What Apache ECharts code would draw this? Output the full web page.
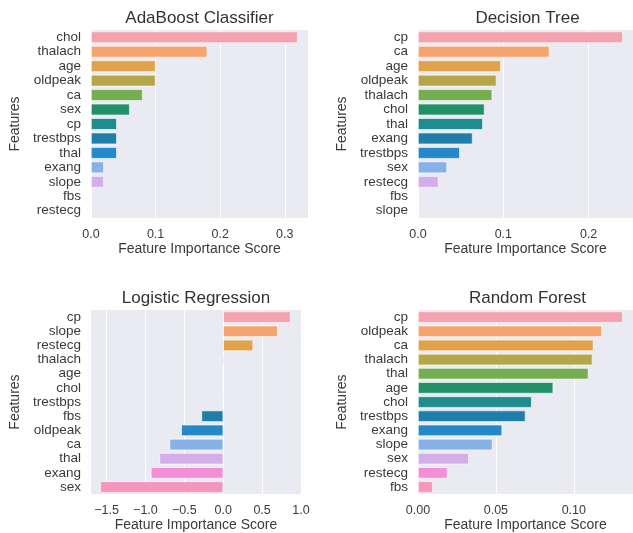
<!DOCTYPE html>
<html>
<head>
<meta charset="utf-8">
<script src="https://cdn.jsdelivr.net/npm/echarts@6/dist/echarts.min.js"></script>
<style>
  html, body { margin: 0; padding: 0; background: #ffffff; }
  #chart { width: 633px; height: 533px; }
</style>
</head>
<body>
<div id="chart"></div>
<script>
// Feature importance per model, sorted from most to least important.
const adaFeatures = ['chol', 'thalach', 'age', 'oldpeak', 'ca', 'sex', 'cp', 'trestbps', 'thal', 'exang', 'slope', 'fbs', 'restecg'];
const adaScores = [0.32, 0.18, 0.10, 0.10, 0.08, 0.06, 0.04, 0.04, 0.04, 0.02, 0.02, 0, 0];

const treeFeatures = ['cp', 'ca', 'age', 'oldpeak', 'thalach', 'chol', 'thal', 'exang', 'trestbps', 'sex', 'restecg', 'fbs', 'slope'];
const treeScores = [0.240, 0.154, 0.097, 0.092, 0.087, 0.078, 0.076, 0.064, 0.049, 0.034, 0.024, 0, 0];

const logFeatures = ['cp', 'slope', 'restecg', 'thalach', 'age', 'chol', 'trestbps', 'fbs', 'oldpeak', 'ca', 'thal', 'exang', 'sex'];
const logScores = [0.866, 0.70, 0.385, 0.015, 0.003, -0.004, -0.01, -0.28, -0.54, -0.69, -0.82, -0.93, -1.58];

const forestFeatures = ['cp', 'oldpeak', 'ca', 'thalach', 'thal', 'age', 'chol', 'trestbps', 'exang', 'slope', 'sex', 'restecg', 'fbs'];
const forestScores = [0.1314, 0.118, 0.1126, 0.112, 0.1094, 0.0868, 0.073, 0.069, 0.054, 0.0478, 0.0327, 0.0189, 0.0094];

// Tick positions on each score axis
const adaTicks = [0, 0.1, 0.2, 0.3];
const treeTicks = [0, 0.1, 0.2];
const logTicks = [-1.5, -1.0, -0.5, 0, 0.5, 1.0];
const forestTicks = [0, 0.05, 0.10];

// Bar colours, one per rank
const palette = ['#f4a2af', '#f4a46c', '#e0a34c', '#b6a64a', '#74ae50', '#22916a', '#1f8d8e',
                 '#1f7faa', '#2589c9', '#86b2e8', '#d2aeea', '#f28fd6', '#f596be'];

const panels = [
  { title: 'AdaBoost Classifier', names: adaFeatures, values: adaScores, ticks: adaTicks,
    min: 0, max: 0.336, digits: 1, left: 91, top: 30, width: 217, height: 188 },
  { title: 'Decision Tree', names: treeFeatures, values: treeScores, ticks: treeTicks,
    min: 0, max: 0.252, digits: 1, left: 418, top: 30, width: 219, height: 188 },
  { title: 'Logistic Regression', names: logFeatures, values: logScores, ticks: logTicks,
    min: -1.70, max: 1.0, digits: 1, left: 91, top: 310, width: 210, height: 187 },
  { title: 'Random Forest', names: forestFeatures, values: forestScores, ticks: forestTicks,
    min: 0, max: 0.138, digits: 2, left: 418, top: 310, width: 219, height: 187 }
];

const textColor = '#3a3a3a';
const fontFamily = '"Liberation Sans", Arial, sans-serif';

const grid = [], xAxis = [], yAxis = [], series = [], graphic = [];

panels.forEach((p, i) => {
  grid.push({
    left: p.left, top: p.top, width: p.width, height: p.height,
    show: true, backgroundColor: '#eaeaf2', borderWidth: 0, containLabel: false
  });
  xAxis.push({
    type: 'value', gridIndex: i, min: p.min, max: p.max,
    name: 'Feature Importance Score', nameLocation: 'middle', nameGap: 22,
    nameTextStyle: { color: textColor, fontSize: 14, fontFamily: fontFamily },
    axisLine: { show: false },
    axisTick: { show: false, customValues: p.ticks },
    axisLabel: {
      customValues: p.ticks, margin: 10, color: textColor, fontSize: 12.5, fontFamily: fontFamily,
      formatter: v => v.toFixed(p.digits).replace('-', '\u2212')
    },
    splitLine: { show: true, lineStyle: { color: '#ffffff', width: 1 } }
  });
  yAxis.push({
    type: 'category', gridIndex: i, data: p.names, inverse: true,
    name: 'Features', nameLocation: 'middle', nameRotate: 90, nameGap: 69,
    nameTextStyle: { color: textColor, fontSize: 14, fontFamily: fontFamily },
    axisLine: { show: false }, axisTick: { show: false },
    axisLabel: { interval: 0, margin: 10, color: textColor, fontSize: 13.5, fontFamily: fontFamily },
    splitLine: { show: false }
  });
  series.push({
    type: 'bar', xAxisIndex: i, yAxisIndex: i, barCategoryGap: '20%',
    data: p.values.map((v, k) => ({
      value: v,
      itemStyle: { color: palette[k], borderColor: '#ffffff', borderWidth: 0.6 }
    })),
    silent: true, animation: false
  });
  graphic.push({
    type: 'text', x: p.left + p.width / 2, y: p.top - 12,
    style: {
      text: p.title, fill: '#333333', font: '17px ' + fontFamily,
      textAlign: 'center', textVerticalAlign: 'middle'
    }
  });
});

const chart = echarts.init(document.getElementById('chart'), null, { renderer: 'canvas' });
chart.setOption({
  animation: false,
  backgroundColor: '#ffffff',
  grid: grid, xAxis: xAxis, yAxis: yAxis, series: series, graphic: graphic
});
</script>
</body>
</html>
